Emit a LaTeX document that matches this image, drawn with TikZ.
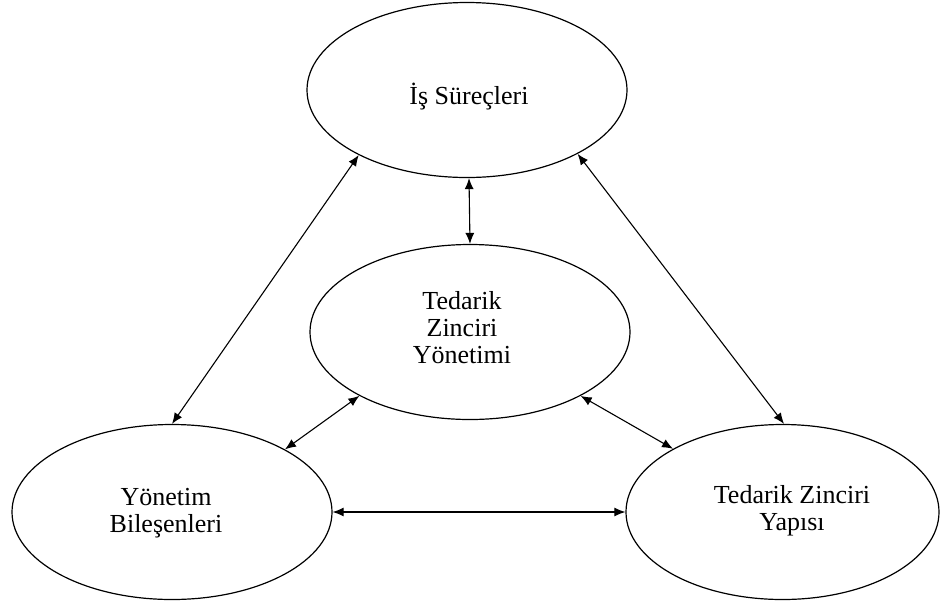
\documentclass[tikz,border=0pt]{standalone}
\usepackage{fontspec}
\setmainfont{Liberation Serif}
\usetikzlibrary{shapes.geometric,arrows.meta}
\begin{document}
\begin{tikzpicture}[x=1pt,y=-1pt,
  oval/.style={draw=black,line width=1.2pt,ellipse,minimum width=320pt,minimum height=175pt,inner sep=0pt},
  lbl/.style={align=center,inner sep=0pt,font=\fontsize{26}{27}\selectfont},
  link/.style={line width=1.1pt,{Latex[length=11pt,width=9pt]}-{Latex[length=11pt,width=9pt]}}]
\useasboundingbox (0,0) rectangle (940,606);
\node[oval] (top) at (467,90) {};
\node[oval] (mid) at (470,332) {};
\node[oval] (left) at (172,512) {};
\node[oval,minimum width=313pt] (right) at (782.5,512) {};
\node[lbl] (ttop) at (469,97) {İş Süreçleri};
\node[lbl] (tmid) at (462,328) {Tedarik\\Zinciri\\Yönetimi};
\node[lbl] (tleft) at (166,513) {Yönetim\\Bileşenleri};
\node[lbl] (tright) at (792,511) {Tedarik Zinciri\\Yapısı};
\draw[link] (top.211) -- (left.90);
\draw[link] (top.330) -- (right.89);
\draw[link] (top.south) ++(2,0) coordinate (a1) (a1) -- (mid.north);
\draw[link] (mid.210) -- (left.29);
\draw[link] (mid.330) -- (right.150);
\draw[link] (left.east) -- (right.west);
\end{tikzpicture}
\end{document}
